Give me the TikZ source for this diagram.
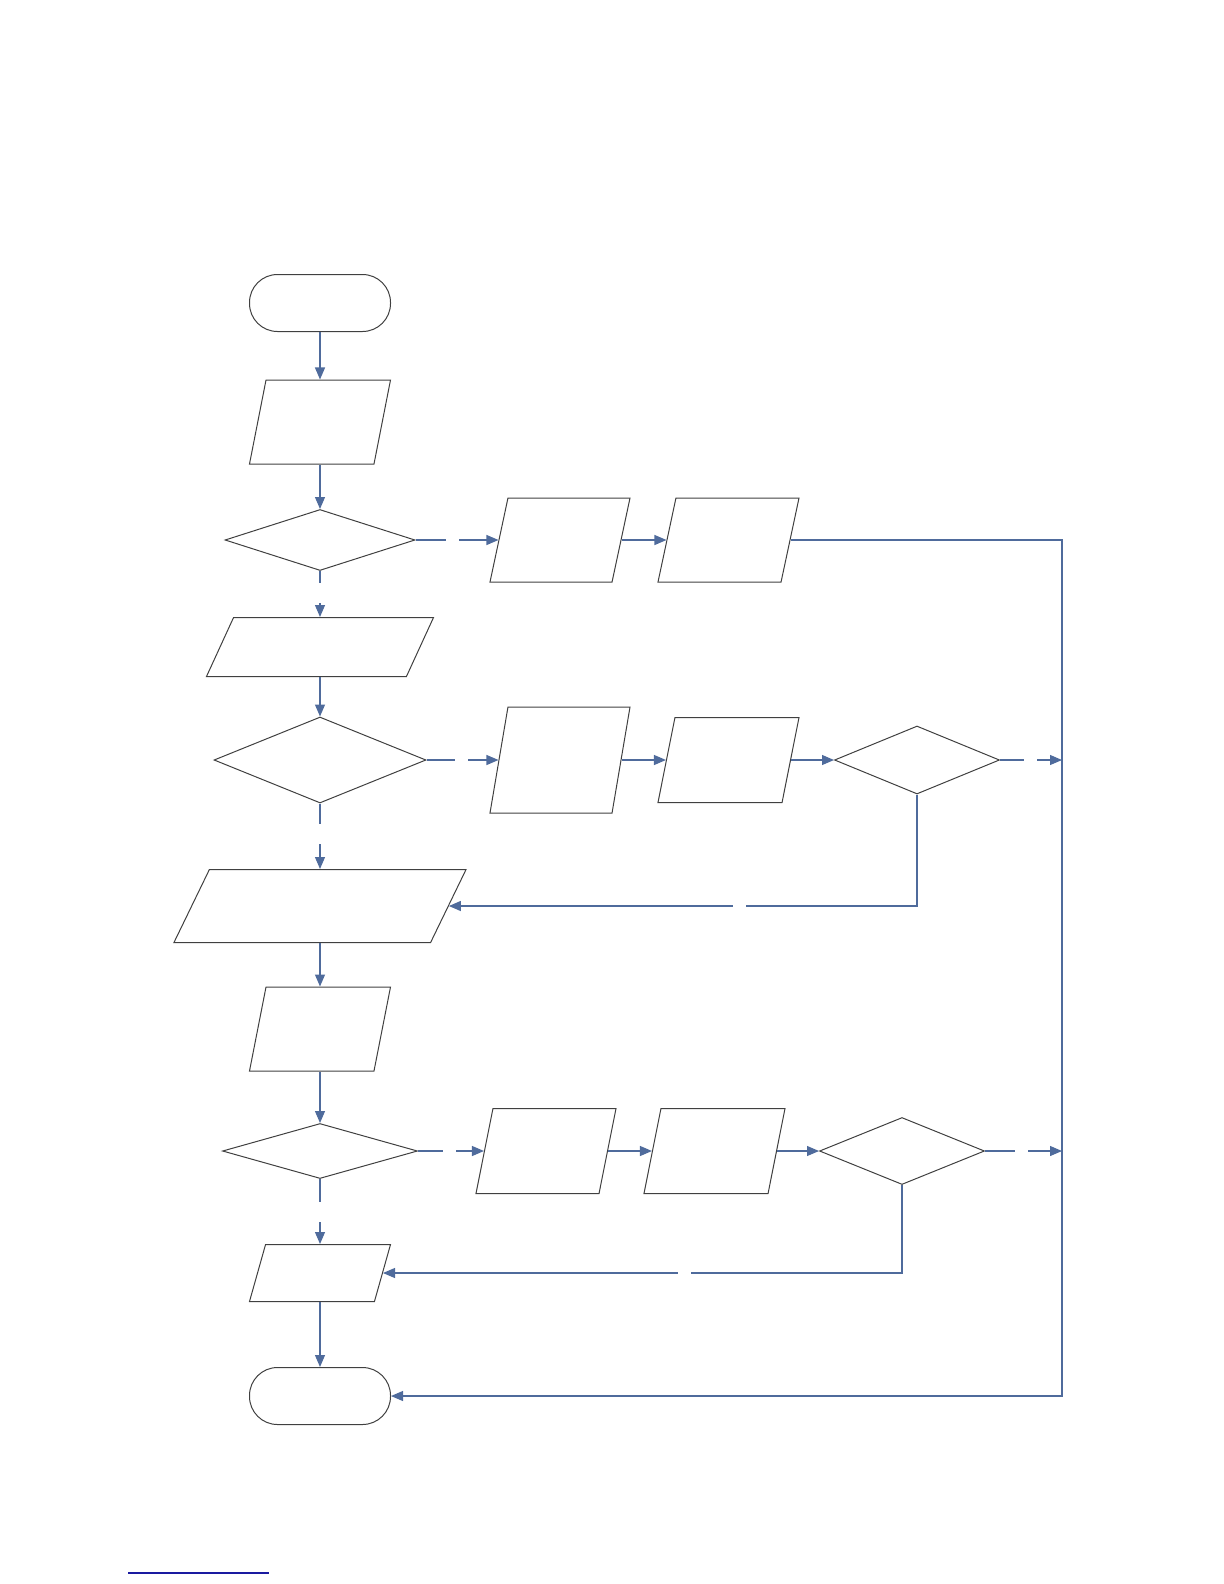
\documentclass[tikz,border=0pt]{standalone}
\usepackage{tikz}
\usetikzlibrary{arrows.meta, shapes.geometric}
\definecolor{fcline}{HTML}{404040}
\definecolor{fcflow}{HTML}{4F6B9C}
\definecolor{fcfoot}{HTML}{1A1AA0}
\tikzset{
  fcterm/.style  = {draw=fcline, line width=0.5pt, rounded corners=14pt,
                    minimum width=70.5pt, minimum height=28.5pt, inner sep=0pt},
  fcio/.style 2 args = {trapezium, trapezium stretches=true,
                    trapezium left angle=#1, trapezium right angle=#2,
                    draw=fcline, line width=0.5pt, inner sep=1pt},
  fcdec/.style   = {diamond, draw=fcline, line width=0.5pt, inner sep=0pt},
  fcarr/.style   = {draw=fcflow, line width=0.6pt,
                    -{Triangle[length=6pt, width=5pt]}},
  fcgap/.style   = {fill=white, inner sep=0pt, minimum width=6.5pt, minimum height=6.5pt},
  fcgapv/.style  = {fcgap, minimum height=10pt},
  fcfootl/.style = {draw=fcfoot, line width=0.6pt},
}
\begin{document}
\begin{tikzpicture}[x=0.5pt, y=-0.5pt]
    \useasboundingbox (0,0) rectangle (1224,1584);

    \node[fcterm] (s0) at (320,303) {};
    \node[fcio={81.3}{98.7}, minimum width=70.5pt, minimum height=42pt] (in1) at (320,422) {};
    \node[fcdec, minimum width=95pt, minimum height=30.5pt] (q1) at (320,540) {};
    \node[fcio={80.2}{99.8}, minimum width=70pt, minimum height=42pt] (q1a) at (560,540) {};
    \node[fcio={80.3}{99.7}, minimum width=70.5pt, minimum height=42pt] (q1b) at (728.5,540) {};

    \node[fcio={81.1}{98.9}, minimum width=113.5pt, minimum height=29.5pt] (in2) at (320,647) {};
    \node[fcdec, minimum width=106pt, minimum height=43pt] (q2) at (320,760) {};
    \node[fcio={80.2}{99.8}, minimum width=70pt, minimum height=53pt] (q2a) at (560,760) {};
    \node[fcio={81}{99}, minimum width=70.5pt, minimum height=42.5pt] (q2b) at (728.5,760) {};
    \node[fcdec, minimum width=82.5pt, minimum height=34pt] (q2c) at (917,760) {};

    \node[fcio={80.9}{99.1}, minimum width=146pt, minimum height=36.5pt] (in3) at (320,906) {};
    \node[fcio={81.3}{98.7}, minimum width=70.5pt, minimum height=42pt] (in4) at (320,1029) {};
    \node[fcdec, minimum width=97.5pt, minimum height=27.5pt] (q3) at (320,1151) {};
    \node[fcio={80.9}{99.1}, minimum width=70pt, minimum height=42.5pt] (q3a) at (546,1151) {};
    \node[fcio={81}{99}, minimum width=70.5pt, minimum height=42.5pt] (q3b) at (714.5,1151) {};
    \node[fcdec, minimum width=82.5pt, minimum height=33.5pt] (q3c) at (902,1151) {};

    \node[fcio={81.6}{98.4}, minimum width=70.5pt, minimum height=28.5pt] (in5) at (320,1273) {};
    \node[fcterm] (e0) at (320,1396) {};

    \coordinate (bus2) at (1062,760);
    \coordinate (bus3) at (1062,1151);
    \coordinate (busb) at (1062,1396);

    \draw[fcarr] (s0) -- (in1);
    \draw[fcarr] (in1) -- (q1);
    \draw[fcarr] (q1) -- node[fcgap, pos=0.45] {} (q1a);
    \draw[fcarr] (q1a) -- (q1b);
    \draw[fcarr] (q1b) -| (busb) -- (e0);
    \draw[fcarr] (q1) -- node[fcgapv, pos=0.47] {} (in2);

    \draw[fcarr] (in2) -- (q2);
    \draw[fcarr] (q2) -- node[fcgap, pos=0.48] {} (q2a);
    \draw[fcarr] (q2a) -- (q2b);
    \draw[fcarr] (q2b) -- (q2c);
    \draw[fcarr] (q2c) -- node[fcgap, pos=0.49] {} (bus2);
    \draw[fcarr] (q2c) |- node[fcgap, pos=0.69] {} (in3);
    \draw[fcarr] (q2) -- node[fcgapv, pos=0.46] {} (in3);

    \draw[fcarr] (in3) -- (in4);
    \draw[fcarr] (in4) -- (q3);
    \draw[fcarr] (q3) -- node[fcgap, pos=0.48] {} (q3a);
    \draw[fcarr] (q3a) -- (q3b);
    \draw[fcarr] (q3b) -- (q3c);
    \draw[fcarr] (q3c) -- node[fcgap, pos=0.47] {} (bus3);
    \draw[fcarr] (q3c) |- node[fcgap, pos=0.71] {} (in5);
    \draw[fcarr] (q3) -- node[fcgapv, pos=0.5] {} (in5);

    \draw[fcarr] (in5) -- (e0);

    \draw[fcfootl] (128,1573) -- (269,1573);
\end{tikzpicture}
\end{document}
